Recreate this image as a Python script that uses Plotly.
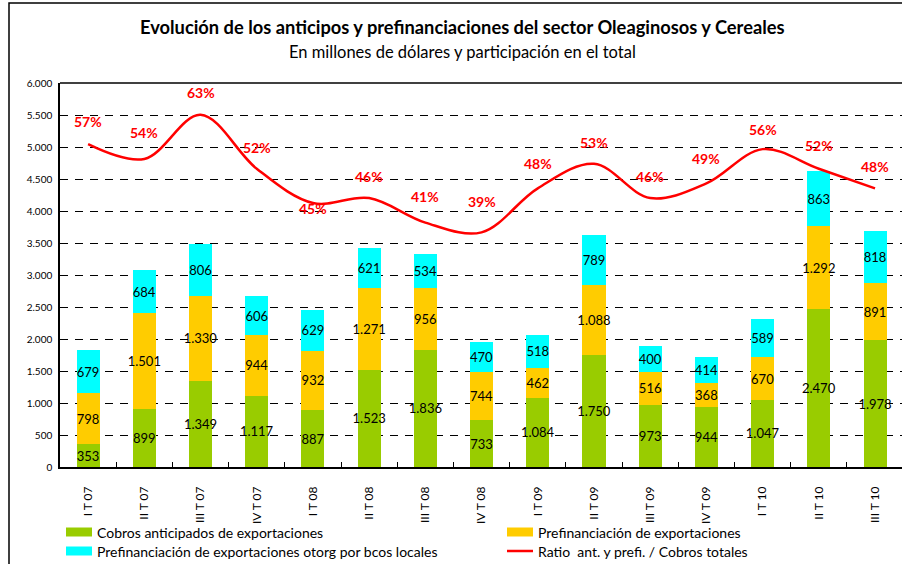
import plotly.graph_objects as go

categories = ["I T 07", "II T 07", "III T 07", "IV T 07",
              "I T 08", "II T 08", "III T 08", "IV T 08",
              "I T 09", "II T 09", "III T 09", "IV T 09",
              "I T 10", "II T 10", "III T 10"]
cobros_anticipados = [353, 899, 1349, 1117, 887, 1523, 1836, 733, 1084, 1750, 973, 944, 1047, 2470, 1978]
prefinanciacion = [798, 1501, 1330, 944, 932, 1271, 956, 744, 462, 1088, 516, 368, 670, 1292, 891]
prefin_bcos_locales = [679, 684, 806, 606, 629, 621, 534, 470, 518, 789, 400, 414, 589, 863, 818]
ratio_pct = [57, 54, 63, 52, 45, 46, 41, 39, 48, 53, 46, 49, 56, 52, 48]
y_ticks = [0, 500, 1000, 1500, 2000, 2500, 3000, 3500, 4000, 4500, 5000, 5500, 6000]

series_names = ["Cobros anticipados de exportaciones",
                "Prefinanciación de exportaciones",
                "Prefinanciación de exportaciones otorg por bcos locales",
                "Ratio  ant. y prefi. / Cobros totales"]

# label vertical offsets (px) for the percentage labels (style only)
pct_label_shift = [23, 26, 22, 21, -5, 22, 26, 31, 25, 21, 22, 25, 20, 23, 22]

FONT = "Lato"
GREEN = "#99CC00"
ORANGE = "#FFCC00"
CYAN = "#00FFFF"
RED = "#FF0000"

# plot-area geometry in pixels (for paper conversions of decorations)
W, H = 902, 564
L, R, T, B = 60, 0, 83, 97
PW, PH = W - L - R, H - T - B


def px_x(px):
    return (px - L) / PW


def px_y(py):
    return (H - B - py) / PH


fig = go.Figure()

bar_common = dict(
    texttemplate="%{y:,.0f}",
    textposition="inside",
    insidetextanchor="middle",
    textangle=0,
    textfont=dict(family=FONT, size=13, color="black"),
    marker_line_width=0,
    showlegend=False,
)

fig.add_trace(go.Bar(x=categories, y=cobros_anticipados, name=series_names[0],
                     marker_color=GREEN, **bar_common))
fig.add_trace(go.Bar(x=categories, y=prefinanciacion, name=series_names[1],
                     marker_color=ORANGE, **bar_common))
fig.add_trace(go.Bar(x=categories, y=prefin_bcos_locales, name=series_names[2],
                     marker_color=CYAN, **bar_common))
ratio_frac = [p / 100 for p in ratio_pct]
fig.add_trace(go.Scatter(x=categories, y=ratio_frac, name=series_names[3], showlegend=False,
                         mode="lines", line=dict(color=RED, width=2.5, shape="spline", smoothing=1.0),
                         yaxis="y2"))

annotations = []
for c, p, s in zip(categories, ratio_pct, pct_label_shift):
    annotations.append(dict(x=c, y=p / 100, xref="x", yref="y2", text=f"{p}%",
                            showarrow=False, yshift=s,
                            font=dict(family=FONT, size=14, color=RED, weight="bold")))

annotations.append(dict(x=px_x(462), y=px_y(27), xref="paper", yref="paper", yanchor="middle",
                        text="<b>Evolución de los anticipos y prefinanciaciones del sector Oleaginosos y Cereales</b>",
                        showarrow=False, font=dict(family=FONT, size=18.3, color="black")))
annotations.append(dict(x=px_x(462), y=px_y(52), xref="paper", yref="paper", yanchor="middle",
                        text="En millones de dólares y participación en el total",
                        showarrow=False, font=dict(family=FONT, size=16.5, color="black")))

# manual legend (two columns)
legend_items = [
    (series_names[0], GREEN, "box", 66, 532),
    (series_names[1], ORANGE, "box", 507, 532),
    (series_names[2], CYAN, "box", 66, 551),
    (series_names[3], RED, "line", 507, 551),
]
shapes = [
    dict(type="line", xref="paper", yref="paper", x0=0, x1=1, y0=1, y1=1,
         line=dict(color="black", width=1.5)),
    dict(type="rect", xref="paper", yref="paper", x0=px_x(9), x1=px_x(1000), y0=px_y(620), y1=px_y(3),
         line=dict(color="black", width=1.5), fillcolor="rgba(0,0,0,0)", layer="below"),
]
for name, color, kind, lx, ly in legend_items:
    if kind == "box":
        shapes.append(dict(type="rect", xref="paper", yref="paper",
                           x0=px_x(lx), x1=px_x(lx + 26), y0=px_y(ly + 4.5), y1=px_y(ly - 4.5),
                           line=dict(width=0), fillcolor=color))
    else:
        shapes.append(dict(type="line", xref="paper", yref="paper",
                           x0=px_x(lx), x1=px_x(lx + 26), y0=px_y(ly), y1=px_y(ly),
                           line=dict(color=color, width=2.5)))
    annotations.append(dict(x=px_x(lx + 29), y=px_y(ly), xref="paper", yref="paper",
                            xanchor="left", yanchor="middle", text=name, showarrow=False,
                            font=dict(family=FONT, size=14, color="black")))

fig.update_layout(
    width=W, height=H,
    margin=dict(l=L, r=R, t=T, b=B, autoexpand=False),
    paper_bgcolor="white", plot_bgcolor="white",
    barmode="stack", bargap=0.59,
    separators=",.",
    showlegend=False,
    uniformtext=dict(minsize=13, mode="show"),
    annotations=annotations,
    shapes=shapes,
    xaxis=dict(type="category", range=[-0.5, 14.48], tickangle=-90,
               tickfont=dict(family=FONT, size=12, color="black"),
               showline=True, linecolor="black", linewidth=1.5,
               ticks="inside", tickson="boundaries", ticklen=5, tickcolor="black",
               ticklabelstandoff=13, showgrid=False, automargin=False),
    yaxis=dict(range=[0, 6000], tickvals=y_ticks, tickformat=",.0f",
               tickfont=dict(family=FONT, size=10, color="black"),
               showline=True, linecolor="black", linewidth=1.5,
               showgrid=True, gridcolor="black", gridwidth=1, griddash="8px,7px",
               ticks="", zeroline=False, automargin=False, ticklabelstandoff=4),
    yaxis2=dict(range=[-0.089, 0.695], overlaying="y", visible=False, showgrid=False),
    font=dict(family=FONT, color="black"),
)

fig.write_html("out.html", config={"displayModeBar": False},
               post_script="document.body.style.margin='0';document.body.style.padding='0';")
